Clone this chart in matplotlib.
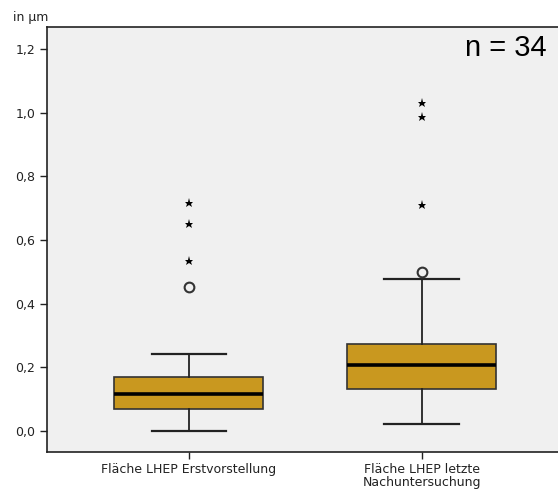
import matplotlib
matplotlib.use("Agg")
import matplotlib.pyplot as plt

# values (in µm)
labels = ["Fläche LHEP Erstvorstellung", "Fläche LHEP letzte\nNachuntersuchung"]
whisker_low = [0.001, 0.022]
q1 = [0.070, 0.131]
medians = [0.117, 0.207]
q3 = [0.171, 0.272]
whisker_high = [0.242, 0.477]
outliers_circle = [[0.451], [0.499]]
outliers_star = [[0.535, 0.650, 0.715], [0.710, 0.985, 1.031]]

BOX_COLOR = "#C9981F"

fig = plt.figure(figsize=(5.58, 4.90), dpi=100)
ax = fig.add_axes([47 / 558, 38 / 490, 560 / 558, 425 / 490])
ax.set_facecolor("#F0F0F0")

stats = []
for i in range(len(labels)):
    stats.append({
        "whislo": whisker_low[i], "q1": q1[i], "med": medians[i],
        "q3": q3[i], "whishi": whisker_high[i], "fliers": [],
    })

positions = [1, 2]
ax.bxp(stats, positions=positions, widths=0.64, patch_artist=True,
       showfliers=False,
       boxprops=dict(facecolor=BOX_COLOR, edgecolor="#333333", linewidth=1.2),
       medianprops=dict(color="black", linewidth=2.6),
       whiskerprops=dict(color="#222222", linewidth=1.3),
       capprops=dict(color="#222222", linewidth=1.6),
       capwidths=0.32)

for p, vals in zip(positions, outliers_circle):
    ax.plot([p] * len(vals), vals, "o", mfc="none", mec="#333333",
            mew=1.5, ms=7)
for p, vals in zip(positions, outliers_star):
    ax.plot([p] * len(vals), vals, "*", color="black", ms=6.5, mew=0)

ax.set_xlim(0.39, 0.39 + 560 / 232.7)
ax.set_ylim(-0.066, 1.269)
ax.set_yticks([0.0, 0.2, 0.4, 0.6, 0.8, 1.0, 1.2])
ax.set_yticklabels(["0,0", "0,2", "0,4", "0,6", "0,8", "1,0", "1,2"],
                   fontsize=9, color="#222222")
ax.set_xticks(positions)
ax.set_xticklabels(labels, fontsize=9, color="#222222", linespacing=0.95)
ax.tick_params(axis="both", length=5, width=1, color="#222222")
ax.tick_params(axis="x", pad=3)

ax.spines["right"].set_visible(False)
for side in ["left", "top", "bottom"]:
    ax.spines[side].set_linewidth(1.2)
    ax.spines[side].set_color("#222222")

fig.text(13 / 558, 1 - 17 / 490, "in µm", fontsize=9, color="#222222",
         va="center", ha="left")
fig.text(506 / 558, 1 - 48 / 490, "n = 34", fontsize=21,
         family="Liberation Sans", ha="center", va="center")

fig.savefig("out.png", dpi=100)
